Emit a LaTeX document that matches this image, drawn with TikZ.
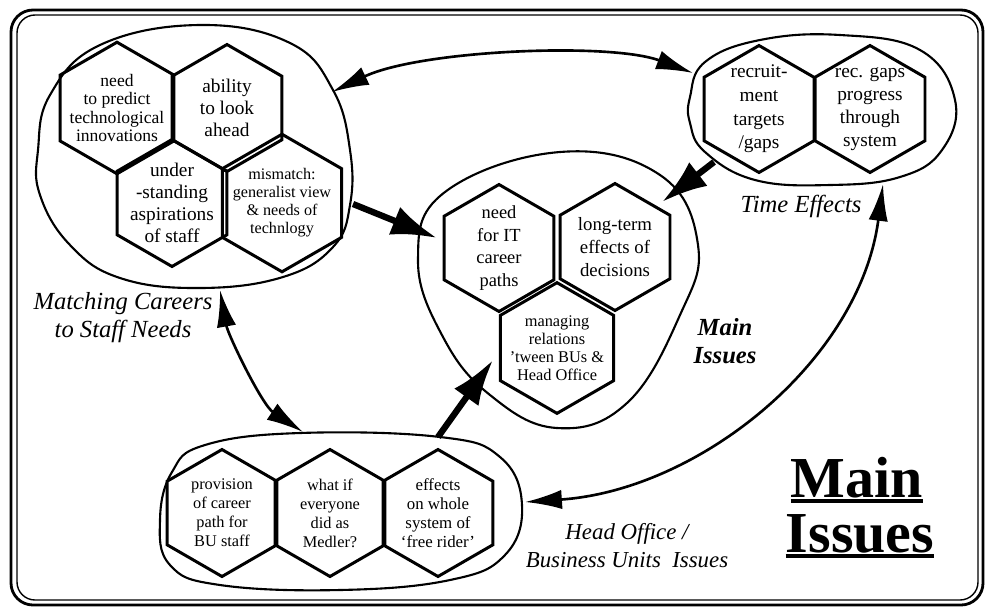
\documentclass[tikz,border=0pt]{standalone}
\usepackage{fontspec}
\setmainfont{Liberation Serif}
\usetikzlibrary{shapes.geometric,arrows.meta,calc}
\tikzset{
  hexcell/.style={draw, line width=1.7pt, regular polygon, regular polygon sides=6,
    shape border rotate=30, minimum size=2.54cm, inner sep=-4pt, align=center},
  blob/.style={line width=1.2pt},
  link/.style={line width=1.5pt, {Latex[length=21pt,width=11pt]}-{Latex[length=21pt,width=11pt]}},
  push/.style={line width=3.6pt, -{Latex[length=26pt,width=17pt]}},
  tag/.style={font=\fontsize{14}{16}\selectfont\itshape, align=center},
}
\begin{document}
\begin{tikzpicture}[x=0.02cm,y=-0.02cm]
\useasboundingbox (0,0) rectangle (986,609);
\draw[line width=1.6pt, rounded corners=0.44cm] (11,10) rectangle (983,605);
\draw[line width=0.8pt, rounded corners=0.36cm] (17,15) rectangle (978,600);

\draw[blob] plot[smooth cycle, tension=0.7] coordinates {(200,25) (290,43) (333,90) (350,150) (350,205) (333,247) (283,277) (200,288) (120,278) (70,245) (40,195) (38,150) (50,95) (100,45)};
\draw[blob] plot[smooth cycle, tension=0.7] coordinates {(690,97) (705,62) (760,40) (840,35) (920,50) (955,100) (942,150) (900,177) (830,185) (755,180) (705,152) (690,123)};
\draw[blob] plot[smooth cycle, tension=0.7] coordinates {(560,152) (660,175) (698,245) (680,315) (627,403) (557,428) (490,395) (443,337) (418,260) (445,192)};
\draw[blob] plot[smooth cycle, tension=0.7] coordinates {(160,520) (172,472) (205,445) (300,433) (440,437) (500,457) (522,505) (505,555) (450,580) (340,590) (220,585) (170,565)};

\node[hexcell, font=\fontsize{10}{10.4}\selectfont] (predict) at (117,108) {need\\to predict\\technological\\innovations};
\node[hexcell, font=\fontsize{11}{12.5}\selectfont] (ahead) at (227,108) {ability\\to look\\ahead};
\node[hexcell, font=\fontsize{11}{12.5}\selectfont] (aspire) at (172,203) {under\\-standing\\aspirations\\of staff};
\node[hexcell, font=\fontsize{9.2}{10.2}\selectfont] (mismatch) at (282,203) {mismatch:\\generalist view\\\& needs of\\technlogy};

\node[hexcell, font=\fontsize{11}{13.5}\selectfont] (targets) at (759,109) {recruit-\\ment\\targets\\/gaps};
\node[hexcell, font=\fontsize{11}{13}\selectfont] (progress) at (870,109) {rec. gaps\\progress\\through\\system};

\node[hexcell, font=\fontsize{10.5}{13}\selectfont] (paths) at (499,248) {need\\for IT\\career\\paths};
\node[hexcell, font=\fontsize{10.7}{13}\selectfont] (longterm) at (615,247) {long-term\\effects of\\decisions};
\node[hexcell, font=\fontsize{9.3}{10.2}\selectfont] (relations) at (557,348) {managing\\relations\\'tween BUs \&\\Head Office};

\node[hexcell, font=\fontsize{9.3}{10.8}\selectfont] (provision) at (222,513) {provision\\of career\\path for\\BU staff};
\node[hexcell, font=\fontsize{9.3}{10.8}\selectfont] (whatif) at (330,513) {what if\\everyone\\did as\\Medler?};
\node[hexcell, font=\fontsize{9.6}{10.8}\selectfont] (freerider) at (438,513) {effects\\on whole\\system of\\`free rider'};

\node[tag] (matchlbl) at (123,318) {Matching Careers\\to Staff Needs};
\node[tag] (timelbl) at (801,206) {Time Effects};
\node[tag, font=\fontsize{14}{15.5}\selectfont\bfseries\itshape] (mainlbl) at (725,341) {Main\\Issues};
\node[tag, font=\fontsize{13}{16}\selectfont\itshape] (officelbl) at (627,546) {Head Office /\\Business Units~ Issues};

\node[font=\fontsize{33}{33}\selectfont\bfseries, inner sep=0pt, anchor=base] (titlemain) at (857,497) {Main};
\node[font=\fontsize{33}{33}\selectfont\bfseries, inner sep=0pt, anchor=base] (titleissues) at (860,552) {Issues};
\draw[line width=2pt] ($(titlemain.base west)+(0,4)$) -- ($(titlemain.base east)+(0,4)$);
\draw[line width=2pt] ($(titleissues.base west)+(0,4)$) -- ($(titleissues.base east)+(0,4)$);

\coordinate (tlTop) at (332,92);
\coordinate (trLeft) at (693,73);
\coordinate (tlBot) at (220,290);
\coordinate (buTop) at (303,432);
\coordinate (buRight) at (525,502);
\coordinate (trBot) at (883,184);
\draw[link] (tlTop) .. controls (420,50) and (610,42) .. (trLeft);
\draw[link] (tlBot) .. controls (228,335) and (262,405) .. (buTop);
\draw[link] (buRight) .. controls (700,490) and (860,360) .. (trBot);

\coordinate (tlEdge) at (353,204);
\coordinate (ctLeft) at (437,238);
\coordinate (trEdge) at (714,162);
\coordinate (ctTop) at (662,202);
\coordinate (buEdge) at (438,437);
\coordinate (ctBot) at (493,360);
\draw[push] (tlEdge) -- (ctLeft);
\draw[push] (trEdge) -- (ctTop);
\draw[push] (buEdge) -- (ctBot);
\end{tikzpicture}
\end{document}
